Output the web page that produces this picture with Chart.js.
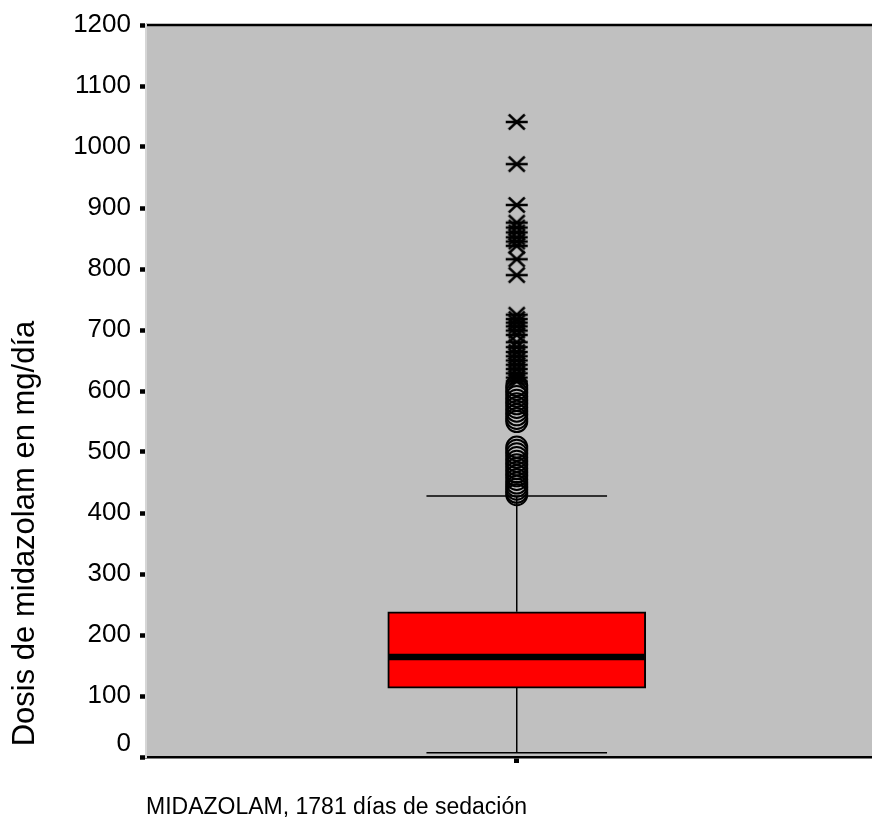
<!DOCTYPE html>
<html>
<head>
<meta charset="utf-8">
<script src="https://cdn.jsdelivr.net/npm/chart.js@4/dist/chart.umd.min.js"></script>
<style>
  html, body { margin: 0; padding: 0; background: #fff; overflow: hidden; width: 872px; height: 821px; }
  #wrap { width: 900px; height: 821px; }
</style>
</head>
<body>
<div id="wrap"><canvas id="c" width="900" height="821"></canvas></div>
<script>
// Box plot of daily midazolam dose
const categories = ['MIDAZOLAM'];
const xAxisTitle = 'MIDAZOLAM, 1781 días de sedación';
const yAxisTitle = 'Dosis de midazolam en mg/día';
const yTicks = [0, 100, 200, 300, 400, 500, 600, 700, 800, 900, 1000, 1100, 1200];

const q1 = [113];
const median = [164];
const q3 = [238];
const whiskerLow = [7];
const whiskerHigh = [428];

// outliers (1.5–3 IQR) drawn as circles, extremes (> 3 IQR) as asterisks
const outliers = [430, 434, 439, 444, 449, 455, 461, 467, 473, 479, 485, 491, 497, 503, 508,
                  550, 555, 561, 567, 573, 579, 585, 591, 597, 603, 609];
const extremes = [616, 622, 629, 636, 643, 650, 657, 664, 672, 680, 692, 699, 706, 712, 718, 725,
                  790, 816, 838, 845, 852, 860, 868, 876, 905, 972, 1041];

const FONT = "'Liberation Sans', Arial, Helvetica, sans-serif";

function asteriskSprite() {
  const c = document.createElement('canvas');
  c.width = 24; c.height = 20;
  const g = c.getContext('2d');
  g.strokeStyle = '#000';
  g.lineWidth = 2.4;
  g.beginPath();
  g.moveTo(1, 10); g.lineTo(23, 10);
  g.moveTo(4, 2.5); g.lineTo(20, 17.5);
  g.moveTo(4, 17.5); g.lineTo(20, 2.5);
  g.stroke();
  return c;
}

const plotBackground = {
  id: 'plotBackground',
  beforeDraw(chart) {
    const { ctx, chartArea: a } = chart;
    ctx.save();
    ctx.fillStyle = '#c0c0c0';
    ctx.fillRect(a.left, a.top, a.right - a.left, a.bottom - a.top);
    ctx.strokeStyle = '#000';
    ctx.lineWidth = 2.5;
    ctx.beginPath();
    ctx.moveTo(a.left, a.top);
    ctx.lineTo(a.right, a.top);
    ctx.stroke();
    ctx.restore();
  }
};

const boxParts = {
  id: 'boxParts',
  afterDatasetsDraw(chart) {
    const { ctx, scales: { y } } = chart;
    const meta = chart.getDatasetMeta(0);
    const seg = (x1, y1, x2, y2) => { ctx.beginPath(); ctx.moveTo(x1, y1); ctx.lineTo(x2, y2); ctx.stroke(); };
    categories.forEach((c, i) => {
      const bar = meta.data[i];
      const cx = bar.x;
      const half = bar.width / 2;
      const capHalf = half * 0.7;
      const yHi = y.getPixelForValue(whiskerHigh[i]);
      const yLo = y.getPixelForValue(whiskerLow[i]);
      ctx.save();
      ctx.strokeStyle = '#000';
      ctx.lineWidth = 1.5;
      seg(cx, y.getPixelForValue(q3[i]), cx, yHi);
      seg(cx, y.getPixelForValue(q1[i]), cx, yLo);
      seg(cx - capHalf, yHi, cx + capHalf, yHi);
      seg(cx - capHalf, yLo, cx + capHalf, yLo);
      ctx.lineWidth = 6.5;
      const ym = y.getPixelForValue(median[i]);
      seg(cx - half + 1, ym, cx + half - 1, ym);
      ctx.restore();
    });
  }
};

const yTitle = {
  id: 'yTitle',
  afterDraw(chart) {
    const { ctx } = chart;
    ctx.save();
    ctx.translate(34, 533.5);
    ctx.rotate(-Math.PI / 2);
    ctx.font = '31px ' + FONT;
    ctx.fillStyle = '#000';
    ctx.textAlign = 'center';
    ctx.textBaseline = 'alphabetic';
    ctx.fillText(yAxisTitle, 0, 0);
    ctx.restore();
  }
};

new Chart(document.getElementById('c'), {
  type: 'bar',
  data: {
    labels: categories,
    datasets: [
      {
        type: 'bar',
        data: categories.map((c, i) => [q1[i], q3[i]]),
        backgroundColor: '#ff0000',
        borderColor: '#000',
        borderWidth: 2,
        borderSkipped: false,
        barThickness: 258,
        order: 2
      },
      {
        type: 'line',
        showLine: false,
        data: outliers.map(v => ({ x: categories[0], y: v })),
        pointStyle: 'circle',
        pointRadius: 10.5,
        pointBorderWidth: 2,
        pointBorderColor: '#000',
        pointBackgroundColor: 'rgba(0,0,0,0)',
        order: 1
      },
      {
        type: 'line',
        showLine: false,
        data: extremes.map(v => ({ x: categories[0], y: v })),
        pointStyle: asteriskSprite(),
        pointRadius: 10,
        order: 1
      }
    ]
  },
  options: {
    responsive: false,
    animation: false,
    layout: { padding: { left: 0, top: 25, right: 6, bottom: 0 } },
    plugins: { legend: { display: false }, tooltip: { enabled: false } },
    scales: {
      x: {
        type: 'category',
        offset: true,
        grid: { display: true, drawOnChartArea: false, drawTicks: true, tickLength: 6, tickWidth: 5, tickColor: '#000', offset: false },
        border: { display: true, color: '#000', width: 2.5 },
        ticks: { display: false },
        title: {
          display: true, text: xAxisTitle, align: 'start', color: '#000',
          font: { family: FONT, size: 23 }, padding: { top: 0, bottom: 0 }
        },
        afterFit(s) { s.height = 64; }
      },
      y: {
        min: 0,
        max: 1200,
        afterBuildTicks(s) { s.ticks = yTicks.map(v => ({ value: v })); },
        ticks: {
          color: '#000',
          padding: 9,
          font: { family: FONT, size: 26, lineHeight: 1 },
          callback: v => (v === 0 ? ['0', ''] : String(v))
        },
        grid: { display: true, drawOnChartArea: false, drawTicks: true, tickLength: 6, tickWidth: 4.5, tickColor: '#000' },
        border: { display: true, color: '#d6d6d6', width: 2 },
        afterFit(s) { s.width = 146; }
      }
    }
  },
  plugins: [plotBackground, boxParts, yTitle]
});
</script>
</body>
</html>
